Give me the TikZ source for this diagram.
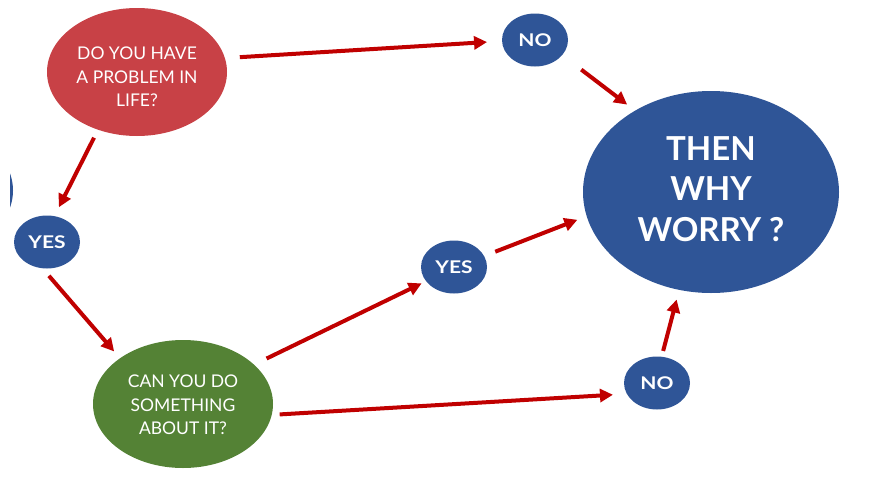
\documentclass[tikz,border=0pt]{standalone}
\usepackage{fontspec}
\setmainfont{Lato}
\newfontfamily\labfont[FakeStretch=1.2]{Lato}
\usetikzlibrary{shapes.geometric,arrows.meta}
\definecolor{qred}{HTML}{C84146}
\definecolor{qblue}{HTML}{2F5597}
\definecolor{qgreen}{HTML}{548235}
\definecolor{arrred}{HTML}{C00000}
\begin{document}
\begin{tikzpicture}[x=1pt,y=-1pt,
  bubble/.style={ellipse,inner sep=0pt,outer sep=0pt},
  qshape/.style={bubble,minimum width=180pt,minimum height=128pt},
  small/.style={bubble,fill=qblue,minimum width=66pt,minimum height=53pt,text=white,
    font=\labfont\fontsize{17.5}{19}\selectfont\bfseries},
  qtext/.style={text=white,align=center,inner sep=0pt,font=\fontsize{17.5}{23.5}\selectfont},
  bigtext/.style={text=white,align=center,inner sep=0pt,font=\fontsize{33}{40.5}\selectfont\bfseries},
  arr/.style={draw=arrred,line width=4pt,-{Triangle[length=13pt,width=13pt]}}
]
\useasboundingbox (0,0) rectangle (876,479);
% partial shape at the left edge
\begin{scope}
  \clip (10,160) rectangle (14,220);
  \fill[qblue] (-60,190.5) ellipse [x radius=73pt, y radius=60pt];
\end{scope}
% question nodes
\node[qshape,fill=qred] (q1) at (137,72) {};
\node[qtext] (q1t) at (137,77) {DO YOU HAVE\\A PROBLEM IN\\LIFE?};
\node[qshape,fill=qgreen] (q2) at (183,404) {};
\node[qtext] (q2t) at (183,405) {CAN YOU DO\\SOMETHING\\ABOUT IT?};
% answers
\node[small] (no1) at (535,40) {NO};
\node[small] (yes1) at (47,242) {YES};
\node[small] (yes2) at (454,267) {YES};
\node[small] (no2) at (657,383) {NO};
% conclusion
\begin{scope}
  \clip (0,0) rectangle (839,479);
  \node[bubble,fill=qblue,minimum width=256pt,minimum height=202pt] (big) at (711,192) {};
\end{scope}
\node[bigtext] (bigt) at (711,189) {THEN\\WHY\\WORRY ?};
% connectors
\draw[arr,shorten <=15pt,shorten >=15pt] (q1.9) -- (no1.182);
\draw[arr,shorten <=24pt,shorten >=10pt] (no1.331) -- (big.133);
\draw[arr,shorten <=9pt,shorten >=10pt] (q1.236) -- (yes1.74);
\draw[arr,shorten <=10pt,shorten >=9pt] (yes1.260) -- (q2.144);
\draw[arr,shorten <=14pt,shorten >=5pt] (q2.29) -- (yes2.207);
\draw[arr,shorten <=12pt,shorten >=10pt] (yes2.20) -- (big.191);
\draw[arr,shorten <=8pt,shorten >=14pt] (q2.353) -- (no2.200);
\draw[arr,shorten <=6pt,shorten >=10pt] (no2.80) -- (big.252);
\end{tikzpicture}
\end{document}
